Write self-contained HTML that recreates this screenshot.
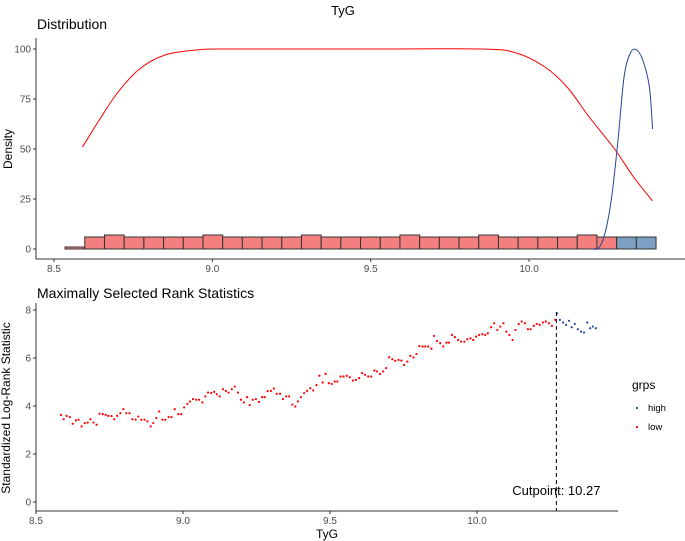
<!DOCTYPE html>
<html><head><meta charset="utf-8"><style>
body{margin:0;background:#fff;}
svg{display:block;font-family:"Liberation Sans",sans-serif;}
</style></head><body>
<svg id="c" width="685" height="541"></svg>
<script>
const binStart=8.535, binWidth=0.0622;
const binCounts=[1,6,7,6,6,6,6,7,6,6,6,6,7,6,6,6,6,7,6,6,6,7,6,6,6,6,7,6,6,6];
const binGroup=["low","low","low","low","low","low","low","low","low","low","low","low","low","low","low","low","low","low","low","low","low","low","low","low","low","low","low","low","high","high"];
const lowDensX=[8.59,8.645,8.70,8.77,8.85,8.95,9.05,9.5,9.85,9.96,10.05,10.12,10.19,10.27,10.33,10.39];
const lowDensY=[51,65,78,90,97,99.5,100,100,100,98,91,81,66,50,36,24];
const highDensX=[10.20,10.22,10.24,10.26,10.28,10.30,10.32,10.34,10.36,10.38,10.39];
const highDensY=[0,0.5,8,25,53,86,98,99.5,94,81,60];
const statX=[8.585,8.594,8.604,8.615,8.625,8.636,8.645,8.655,8.666,8.676,8.685,8.696,8.706,8.716,8.727,8.737,8.746,8.757,8.766,8.776,8.787,8.797,8.807,8.818,8.828,8.839,8.848,8.858,8.869,8.879,8.890,8.899,8.909,8.919,8.930,8.940,8.951,8.961,8.972,8.984,8.994,9.004,9.015,9.024,9.034,9.045,9.055,9.066,9.076,9.085,9.096,9.106,9.115,9.125,9.136,9.146,9.155,9.166,9.176,9.187,9.197,9.207,9.218,9.227,9.237,9.248,9.258,9.269,9.278,9.288,9.299,9.309,9.319,9.330,9.340,9.351,9.361,9.372,9.382,9.391,9.401,9.412,9.422,9.433,9.443,9.454,9.464,9.475,9.485,9.496,9.506,9.516,9.525,9.536,9.546,9.557,9.567,9.578,9.588,9.599,9.609,9.619,9.630,9.640,9.651,9.660,9.670,9.681,9.691,9.701,9.712,9.722,9.733,9.743,9.752,9.763,9.773,9.784,9.794,9.804,9.815,9.824,9.834,9.845,9.854,9.864,9.875,9.885,9.896,9.904,9.915,9.925,9.936,9.946,9.957,9.967,9.978,9.987,9.997,10.007,10.018,10.028,10.037,10.048,10.058,10.069,10.079,10.090,10.100,10.110,10.121,10.131,10.142,10.152,10.163,10.173,10.182,10.193,10.203,10.213,10.224,10.234,10.245,10.255,10.266,10.272,10.282,10.293,10.303,10.313,10.322,10.333,10.343,10.354,10.364,10.375,10.385,10.394,10.404];
const statY=[3.63,3.45,3.59,3.54,3.26,3.40,3.43,3.15,3.29,3.31,3.45,3.31,3.22,3.68,3.66,3.63,3.59,3.58,3.45,3.59,3.70,3.87,3.70,3.70,3.45,3.43,3.56,3.43,3.43,3.36,3.15,3.29,3.50,3.77,3.43,3.43,3.54,3.54,3.87,3.66,3.66,3.94,4.09,4.19,4.29,4.26,4.26,4.15,4.40,4.56,4.54,4.59,4.49,4.40,4.70,4.63,4.56,4.70,4.81,4.56,4.26,4.15,4.37,4.04,4.26,4.29,4.17,4.37,4.37,4.62,4.63,4.73,4.51,4.51,4.29,4.40,4.40,4.06,3.98,4.19,4.37,4.54,4.63,4.74,4.65,4.87,5.26,4.98,5.34,4.95,4.92,5.02,5.02,5.23,5.23,5.26,5.20,5.06,5.09,5.16,5.37,5.30,5.23,5.23,5.48,5.44,5.34,5.44,5.58,6.03,5.95,5.88,5.92,5.89,5.71,5.85,6.09,6.02,6.17,6.50,6.48,6.48,6.48,6.39,6.92,6.71,6.62,6.48,6.64,6.64,6.96,6.87,6.75,6.68,6.68,6.78,6.82,6.75,6.89,6.96,6.99,6.96,7.03,7.28,7.45,7.17,7.31,7.45,7.10,6.96,6.75,7.17,7.41,7.52,7.45,7.20,7.20,7.34,7.42,7.38,7.48,7.52,7.45,7.34,7.59,7.86,7.59,7.48,7.38,7.55,7.28,7.42,7.20,7.10,7.06,7.48,7.24,7.31,7.24];
const cutpoint=10.27;
const topYTicks=[0,25,50,75,100];
const botYTicks=[0,2,4,6,8];
const xTicks=[8.5,9.0,9.5,10.0];

const NS="http://www.w3.org/2000/svg";
const svg=document.getElementById('c');
function mk(tag,attrs,parent,txt){const e=document.createElementNS(NS,tag);for(const k in attrs)e.setAttribute(k,attrs[k]);if(txt!==undefined)e.textContent=txt;(parent||svg).appendChild(e);return e;}
const tx=t=>54+(t-8.5)*316.7, ty=v=>249-2*v;
const bx=t=>36+(t-8.5)*294, by=v=>502-24*v;
function smooth(xs,ys,fx,fy){let p=xs.map((x,i)=>[fx(x),fy(ys[i])]);let d="M"+p[0][0]+","+p[0][1];for(let i=0;i<p.length-1;i++){const p0=p[i-1]||p[i],p1=p[i],p2=p[i+1],p3=p[i+2]||p2;d+=" C"+(p1[0]+(p2[0]-p0[0])/6)+","+(p1[1]+(p2[1]-p0[1])/6)+" "+(p2[0]-(p3[0]-p1[0])/6)+","+(p2[1]-(p3[1]-p1[1])/6)+" "+p2[0]+","+p2[1];}return d;}

let t;
t=mk('text',{x:343,y:15,'font-size':13,'text-anchor':'middle',fill:'#000'},svg,'TyG');

t=mk('text',{x:37,y:29,'font-size':14,fill:'#000'},svg,'Distribution');

const gb=mk('g',{});

binCounts.forEach((c,i)=>{const x0=tx(binStart+i*binWidth),x1=tx(binStart+(i+1)*binWidth);
 const r=mk('rect',{x:x0,y:ty(c),width:x1-x0,height:ty(0)-ty(c),fill:binGroup[i]==='high'?'#7DA0C4':'#F47F7F',stroke:'#333','stroke-width':1},gb);
 });
let p=mk('path',{d:smooth(lowDensX,lowDensY,tx,ty),fill:'none',stroke:'#FF0000','stroke-width':1});

p=mk('path',{d:smooth(highDensX,highDensY,tx,ty),fill:'none',stroke:'#23469A','stroke-width':1});

let a=mk('path',{d:'M36,38 V259 H685',fill:'none',stroke:'#333','stroke-width':1});

topYTicks.forEach(v=>{mk('line',{x1:33,x2:36,y1:ty(v),y2:ty(v),stroke:'#333'});
 t=mk('text',{x:31,y:ty(v)+3.5,'font-size':10,'text-anchor':'end',fill:'#4d4d4d'},svg,v);
 });
xTicks.forEach(v=>{mk('line',{x1:tx(v),x2:tx(v),y1:259,y2:262,stroke:'#333'});
 t=mk('text',{x:tx(v),y:272,'font-size':10,'text-anchor':'middle',fill:'#4d4d4d'},svg,v.toFixed(1));
 });
t=mk('text',{x:0,y:0,'font-size':12,'text-anchor':'middle',fill:'#000',transform:'translate(12,149) rotate(-90)'},svg,'Density');


t=mk('text',{x:37,y:298,'font-size':14,fill:'#000'},svg,'Maximally Selected Rank Statistics');

const gp=mk('g',{});

statX.forEach((x,i)=>{const c=mk('circle',{cx:bx(x),cy:by(statY[i]),r:1.1,fill:x>cutpoint?'#23469A':'#FF0000'},gp);
 });
let dl=mk('line',{x1:bx(cutpoint),x2:bx(cutpoint),y1:312,y2:511,stroke:'#000','stroke-dasharray':'4,3','stroke-width':1});

t=mk('text',{x:bx(cutpoint),y:495,'font-size':13,'text-anchor':'middle',fill:'#000'},svg,'Cutpoint: '+cutpoint.toFixed(2));

a=mk('path',{d:'M36,303 V511 H618',fill:'none',stroke:'#333','stroke-width':1});

botYTicks.forEach(v=>{mk('line',{x1:33,x2:36,y1:by(v),y2:by(v),stroke:'#333'});
 t=mk('text',{x:31,y:by(v)+3.5,'font-size':10,'text-anchor':'end',fill:'#4d4d4d'},svg,v);
 });
xTicks.forEach(v=>{mk('line',{x1:bx(v),x2:bx(v),y1:511,y2:514,stroke:'#333'});
 t=mk('text',{x:bx(v),y:524,'font-size':10,'text-anchor':'middle',fill:'#4d4d4d'},svg,v.toFixed(1));
 });
t=mk('text',{x:327,y:538,'font-size':12,'text-anchor':'middle',fill:'#000'},svg,'TyG');

t=mk('text',{x:0,y:0,'font-size':12,'text-anchor':'middle',fill:'#000',transform:'translate(10,408) rotate(-90)'},svg,'Standardized Log-Rank Statistic');

t=mk('text',{x:632,y:389,'font-size':12,fill:'#000'},svg,'grps');

let c=mk('circle',{cx:637,cy:408,r:1.1,fill:'#23469A'});

t=mk('text',{x:648,y:411,'font-size':9.5,fill:'#000'},svg,'high');

c=mk('circle',{cx:637,cy:427,r:1.1,fill:'#FF0000'});

t=mk('text',{x:648,y:430,'font-size':9.5,fill:'#000'},svg,'low');

</script>
</body></html>
